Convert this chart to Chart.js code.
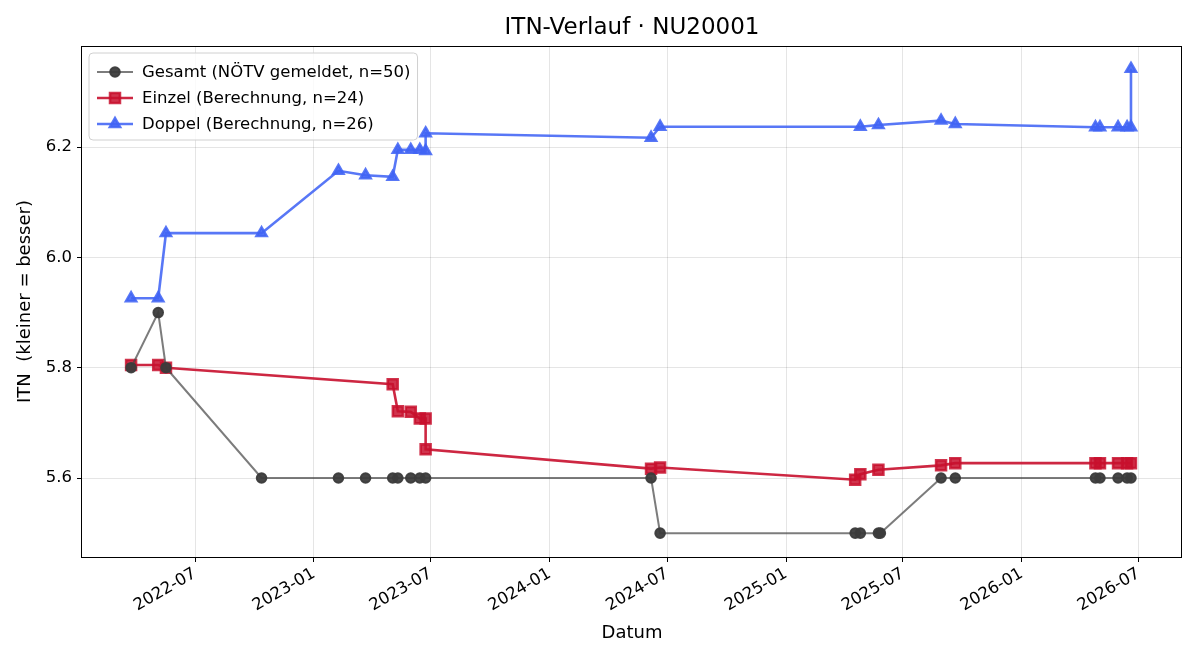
<!DOCTYPE html>
<html>
<head>
<meta charset="utf-8">
<script src="https://cdn.jsdelivr.net/npm/chart.js@4/dist/chart.umd.min.js"></script>
<style>
  html, body { margin: 0; padding: 0; background: #fff; }
  #wrap { width: 1200px; height: 660px; }
</style>
</head>
<body>
<div id="wrap"><canvas id="itn" width="1200" height="660"></canvas></div>
<script>
// Werte
const gesamtDaten = ['2022-03-24','2022-05-05','2022-05-17','2022-10-12','2023-02-08','2023-03-22','2023-05-03','2023-05-11','2023-05-31','2023-06-14','2023-06-23','2024-06-06','2024-06-20','2025-04-18','2025-04-26','2025-05-24','2025-05-27','2025-08-29','2025-09-20','2026-04-25','2026-05-02','2026-05-30','2026-06-13','2026-06-19'];
const gesamtWerte = [5.8, 5.9, 5.8, 5.6, 5.6, 5.6, 5.6, 5.6, 5.6, 5.6, 5.6, 5.6, 5.5, 5.5, 5.5, 5.5, 5.5, 5.6, 5.6, 5.6, 5.6, 5.6, 5.6, 5.6];

const einzelDaten = ['2022-03-24','2022-05-05','2022-05-17','2023-05-03','2023-05-11','2023-05-31','2023-06-14','2023-06-23','2023-06-23','2024-06-06','2024-06-20','2025-04-18','2025-04-26','2025-05-24','2025-08-29','2025-09-20','2026-04-25','2026-05-02','2026-05-30','2026-06-13','2026-06-19'];
const einzelWerte = [5.805, 5.805, 5.800, 5.770, 5.721, 5.720, 5.708, 5.708, 5.652, 5.617, 5.619, 5.597, 5.607, 5.615, 5.623, 5.627, 5.627, 5.627, 5.627, 5.627, 5.627];

const doppelDaten = ['2022-03-24','2022-05-05','2022-05-17','2022-10-12','2023-02-08','2023-03-22','2023-05-03','2023-05-11','2023-05-31','2023-06-14','2023-06-23','2023-06-23','2024-06-06','2024-06-20','2025-04-26','2025-05-24','2025-08-29','2025-09-20','2026-04-25','2026-05-02','2026-05-30','2026-06-13','2026-06-19','2026-06-19'];
const doppelWerte = [5.926, 5.926, 6.044, 6.044, 6.157, 6.149, 6.146, 6.195, 6.195, 6.195, 6.193, 6.225, 6.217, 6.237, 6.237, 6.240, 6.248, 6.242, 6.236, 6.236, 6.236, 6.236, 6.236, 6.342];

const xTicks = ['2022-07','2023-01','2023-07','2024-01','2024-07','2025-01','2025-07','2026-01','2026-07'];
const yTicks = [5.6, 5.8, 6.0, 6.2];

const titel = 'ITN-Verlauf · NU20001';
const legendLabels = ['Gesamt (NÖTV gemeldet, n=50)', 'Einzel (Berechnung, n=24)', 'Doppel (Berechnung, n=26)'];

function tag(s) {
    const p = s.split('-').map(Number);
    return Date.UTC(p[0], p[1] - 1, p[2] || 1);
}
function punkte(daten, werte) {
    return daten.map((d, i) => ({ x: tag(d), y: werte[i] }));
}

const schrift = 'DejaVu Sans';

// Rahmen rundherum und Titel über der Achsenfläche
const rahmen = {
    id: 'rahmen',
    afterDraw(chart) {
        const a = chart.chartArea, c = chart.ctx;
        c.save();
        c.strokeStyle = '#000';
        c.lineWidth = 1;
        c.strokeRect(Math.round(a.left) - 0.5, Math.round(a.top) + 0.5, Math.round(a.right - a.left), Math.round(a.bottom - a.top));
        c.font = '23px "' + schrift + '"';
        c.fillStyle = '#000';
        c.textAlign = 'center';
        c.textBaseline = 'middle';
        c.fillText(titel, (a.left + a.right) / 2, 28);
        c.restore();
    }
};

// Legende mit Linie und Marker
const legende = {
    id: 'legende',
    afterDatasetsDraw(chart) {
        const c = chart.ctx;
        const a = chart.chartArea;
        c.save();
        c.font = '16.5px "' + schrift + '"';
        let tw = 0;
        legendLabels.forEach(t => { tw = Math.max(tw, c.measureText(t).width); });
        const x0 = a.left + 7, y0 = a.top + 7;
        const w = 53 + tw + 7, h = 87;
        c.beginPath();
        c.roundRect(x0, y0, w, h, 4);
        c.fillStyle = 'rgba(255,255,255,0.8)';
        c.fill();
        c.strokeStyle = '#d0d0d0';
        c.lineWidth = 1;
        c.stroke();
        chart.data.datasets.forEach((ds, i) => {
            const yy = y0 + 19 + i * 26;
            c.beginPath();
            c.moveTo(x0 + 8, yy);
            c.lineTo(x0 + 44, yy);
            c.strokeStyle = ds.borderColor;
            c.lineWidth = ds.borderWidth;
            c.stroke();
            c.fillStyle = ds.pointBackgroundColor;
            c.strokeStyle = ds.pointBorderColor;
            Chart.helpers.drawPoint(c, { pointStyle: ds.pointStyle, radius: ds.pointRadius, borderWidth: 1 }, x0 + 26, yy);
            c.fillStyle = '#000';
            c.textBaseline = 'middle';
            c.fillText(legendLabels[i], x0 + 53, yy + 1);
        });
        c.restore();
    }
};

new Chart(document.getElementById('itn'), {
    type: 'line',
    data: {
        datasets: [{
            label: legendLabels[0],
            data: punkte(gesamtDaten, gesamtWerte),
            borderColor: 'rgba(68,68,68,0.7)',
            borderWidth: 2,
            pointStyle: 'circle',
            pointRadius: 4.8,
            pointBackgroundColor: 'rgba(60,60,60,0.95)',
            pointBorderColor: 'rgba(60,60,60,0.95)',
            tension: 0
        }, {
            label: legendLabels[1],
            data: punkte(einzelDaten, einzelWerte),
            borderColor: 'rgba(200,16,46,0.9)',
            borderWidth: 2.6,
            pointStyle: 'rect',
            pointRadius: 7,
            pointBackgroundColor: 'rgba(200,16,46,0.85)',
            pointBorderColor: 'rgba(200,16,46,0.85)',
            tension: 0
        }, {
            label: legendLabels[2],
            data: punkte(doppelDaten, doppelWerte),
            borderColor: 'rgba(65,100,245,0.88)',
            borderWidth: 2.6,
            pointStyle: 'triangle',
            pointRadius: 5.8,
            pointBackgroundColor: 'rgba(65,100,245,0.88)',
            pointBorderColor: 'rgba(65,100,245,0.88)',
            tension: 0
        }]
    },
    options: {
        responsive: false,
        animation: false,
        layout: { padding: { left: 0, right: 18, top: 46, bottom: 0 } },
        plugins: {
            legend: { display: false },
            tooltip: { enabled: false },
            title: { display: false }
        },
        scales: {
            x: {
                type: 'linear',
                min: Date.UTC(2022, 0, 7),
                max: Date.UTC(2026, 8, 6),
                afterBuildTicks(scale) {
                    scale.ticks = xTicks.map(t => ({ value: tag(t) }));
                },
                afterFit(scale) { scale.height = 103; },
                ticks: {
                    autoSkip: false,
                    minRotation: 30,
                    maxRotation: 30,
                    padding: 2,
                    color: '#000',
                    font: { family: schrift, size: 16.5 },
                    callback(v) {
                        const d = new Date(v);
                        return d.getUTCFullYear() + '-' + String(d.getUTCMonth() + 1).padStart(2, '0');
                    }
                },
                grid: { color: 'rgba(0,0,0,0.1)', tickColor: '#000', tickLength: 5 },
                border: { display: false },
                title: {
                    display: true,
                    text: 'Datum',
                    color: '#000',
                    font: { family: schrift, size: 18 },
                    padding: { top: 0, bottom: 16 }
                }
            },
            y: {
                min: 5.4568,
                max: 6.3833,
                afterBuildTicks(scale) {
                    scale.ticks = yTicks.map(v => ({ value: v }));
                },
                afterFit(scale) { scale.width = 82; },
                ticks: {
                    padding: 5,
                    color: '#000',
                    font: { family: schrift, size: 16.5 },
                    callback(v) { return Number(v).toFixed(1); }
                },
                grid: { color: 'rgba(0,0,0,0.1)', tickColor: '#000', tickLength: 5 },
                border: { display: false },
                title: {
                    display: true,
                    text: 'ITN  (kleiner = besser)',
                    color: '#000',
                    font: { family: schrift, size: 18 },
                    padding: { top: 15, bottom: 0 }
                }
            }
        }
    },
    plugins: [rahmen, legende]
});
</script>
</body>
</html>
